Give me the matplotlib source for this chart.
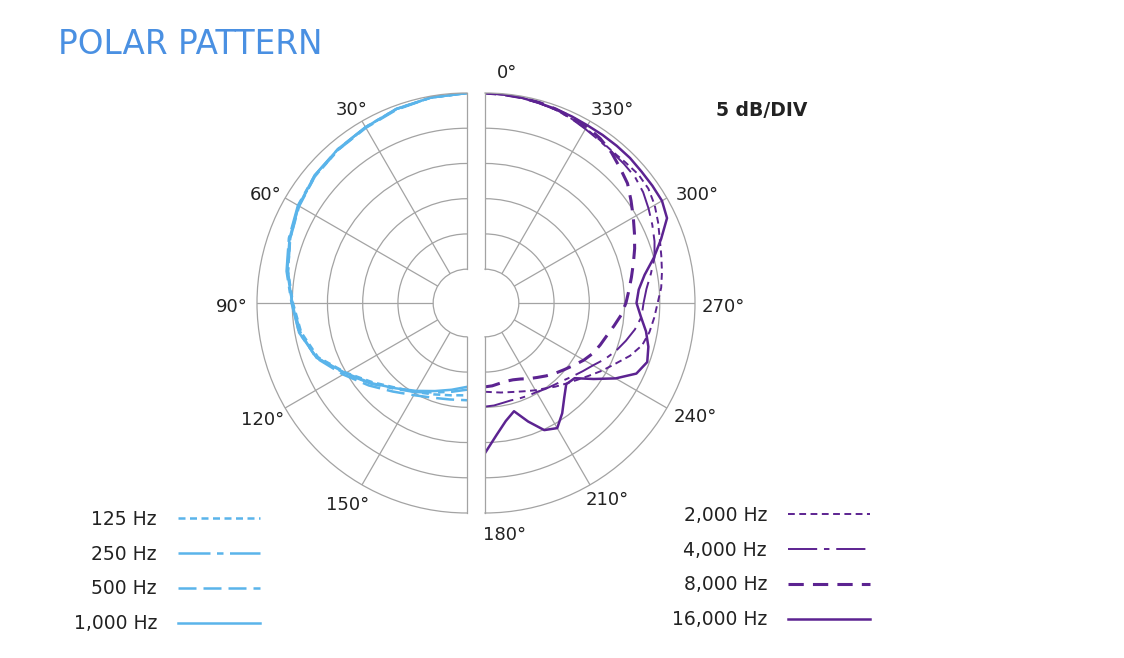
import numpy as np
import matplotlib.pyplot as plt

plt.rcParams['font.family'] = ['DejaVu Sans']

# chart angles (deg) and levels (dB), left half 0..180, right half 180..360
blue_angles = np.arange(0, 181, 10)
blue_125 = [0, -0.2, -0.5, -1.0, -1.4, -1.7, -2.2, -3.1, -4.0, -5.1, -5.9, -7.3,
            -10.0, -12.3, -14.1, -15.2, -16.0, -16.5, -16.7]
blue_250 = [0, -0.2, -0.5, -1.0, -1.3, -1.6, -2.1, -2.9, -3.8, -4.9, -5.6, -7.1,
            -9.8, -12.0, -13.9, -15.2, -16.3, -17.0, -17.5]
blue_500 = [0, -0.2, -0.6, -1.1, -1.4, -1.7, -2.3, -3.1, -4.0, -5.0, -5.8, -7.0,
            -9.5, -11.6, -13.4, -14.7, -15.5, -15.9, -16.0]
blue_1000 = [0, -0.2, -0.5, -1.0, -1.3, -1.6, -2.2, -3.0, -3.9, -5.0, -5.6, -7.1,
             -9.9, -12.1, -14.0, -15.4, -16.5, -17.3, -17.9]

purple_angles = np.arange(180, 361, 5)
purple_2000 = [-17.2, -17.1, -16.9, -16.7, -16.4, -16.0, -15.5, -15.0, -14.3, -13.6,
               -12.8, -11.8, -10.6, -9.4, -7.9, -6.7, -6.1, -5.7, -5.3, -4.7,
               -4.3, -3.9, -3.4, -2.7, -2.0, -1.5, -1.4, -1.6, -1.7, -1.5,
               -1.2, -0.9, -0.6, -0.4, -0.2, -0.1, 0]
purple_4000 = [-15.1, -15.2, -15.4, -15.5, -15.4, -15.3, -15.2, -14.9, -14.6, -14.2,
               -13.6, -12.9, -12.1, -11.0, -10.0, -9.1, -8.2, -7.5, -7.3, -6.8,
               -5.9, -4.9, -4.2, -3.6, -3.0, -2.4, -2.0, -1.9, -1.8, -1.6,
               -1.3, -0.9, -0.6, -0.4, -0.2, -0.1, 0]
purple_8000 = [-17.9, -18.0, -18.2, -18.3, -18.2, -17.9, -17.4, -16.9, -16.3, -15.7,
               -15.1, -14.4, -13.6, -12.9, -12.4, -11.9, -11.2, -10.4, -9.8, -9.3,
               -8.7, -8.0, -7.2, -6.4, -5.5, -4.5, -3.4, -2.7, -1.9, -1.3,
               -0.9, -0.7, -0.5, -0.3, -0.2, -0.1, 0]
purple_16000 = [-8.5, -11.0, -12.8, -13.9, -11.9, -9.9, -9.3, -10.7, -12.3, -13.5,
                -13.2, -11.0, -8.4, -6.1, -5.3, -5.8, -6.6, -7.6, -8.3, -7.9,
                -6.8, -5.0, -3.2, -1.3, -0.8, -0.8, -0.8, -0.7, -0.7, -0.7,
                -0.7, -0.6, -0.5, -0.4, -0.2, -0.1, 0]

left_ticks = [30, 60, 90, 120, 150]
right_ticks = [210, 240, 270, 300, 330]
# label nudges in px (x right, y up) from the spoke end on the outer ring
label_offsets = {0: (22, 20), 30: (-10, 11), 60: (-20, 3), 90: (-25, -4),
                 120: (-23, -12), 150: (-14, -20), 180: (20, -22),
                 210: (17, -15), 240: (28, -9), 270: (28, -4),
                 300: (30, 3), 330: (22, 11)}

BLUE = '#5ab4ea'
PURPLE = '#5c2391'
GRID = '#a3a3a3'
TEXT = '#222222'

W, H = 1124, 658
R = 210          # outer radius in px
CY = 303
LEFT_CX, RIGHT_CX = 467, 485
R_ORIGIN = -29.8

fig = plt.figure(figsize=(W / 100, H / 100), dpi=100)


def square_box(cx):
    # sector polar axes pad the half disc out to a square
    return [(cx - R) / W, 1 - (CY + R) / H, 2 * R / W, 2 * R / H]


def setup(ax, tmin, tmax, spokes):
    ax.set_theta_zero_location('N')
    ax.set_theta_direction(1)
    ax.set_thetamin(tmin)
    ax.set_thetamax(tmax)
    ax.set_rlim(-25, 0)
    ax.set_rorigin(R_ORIGIN)
    ax.set_rgrids([-20, -15, -10, -5], labels=[''] * 4)
    ax.set_thetagrids(spokes, labels=[''] * len(spokes))
    ax.grid(color=GRID, lw=0.9)
    for s in ax.spines.values():
        s.set_color(GRID)
        s.set_linewidth(0.9)
    ax.tick_params(length=0)
    ax.set_facecolor('none')


ax_l = fig.add_axes(square_box(LEFT_CX - R / 2), projection='polar')
ax_r = fig.add_axes(square_box(RIGHT_CX + R / 2), projection='polar')
setup(ax_l, 0, 180, left_ticks)
setup(ax_r, 180, 360, right_ticks)

th = np.deg2rad(blue_angles)
l125, = ax_l.plot(th, blue_125, color=BLUE, lw=1.8, dashes=(2.8, 1.8))
l250, = ax_l.plot(th, blue_250, color=BLUE, lw=1.8, dashes=(12.8, 2.6, 2.6, 2.6))
l500, = ax_l.plot(th, blue_500, color=BLUE, lw=1.8, dashes=(7.2, 2.8))
l1000, = ax_l.plot(th, blue_1000, color=BLUE, lw=1.8)

tp = np.deg2rad(purple_angles)
l2k, = ax_r.plot(tp, purple_2000, color=PURPLE, lw=1.4, dashes=(3.5, 2.3))
l4k, = ax_r.plot(tp, purple_4000, color=PURPLE, lw=1.4, dashes=(15, 3.5, 2.8, 3.5))
l8k, = ax_r.plot(tp, purple_8000, color=PURPLE, lw=2.2, dashes=(5, 3))
l16k, = ax_r.plot(tp, purple_16000, color=PURPLE, lw=1.8)

# angle labels around the outer ring
for a, (dx, dy) in label_offsets.items():
    ax = ax_l if 0 < a < 180 else ax_r
    ax.annotate(f'{a}°', xy=(np.deg2rad(a), 0), xytext=(dx, dy),
                textcoords='offset pixels', ha='center', va='center',
                fontsize=13, color=TEXT, annotation_clip=False)

fig.text(58 / W, 1 - 54 / H, 'POLAR PATTERN', ha='left', va='baseline',
         fontsize=23.5, color='#4a90e2')
fig.text(762 / W, 1 - 110 / H, '5 dB/DIV', ha='center', va='center',
         fontsize=13.5, color=TEXT, fontweight='bold')

leg_kw = dict(loc='upper right', bbox_transform=fig.transFigure, frameon=False,
              markerfirst=False, alignment='right', handlelength=4.4,
              handletextpad=1.1, labelspacing=0.84, borderpad=0,
              borderaxespad=0, fontsize=13.5, labelcolor=TEXT)
leg1 = fig.legend([l125, l250, l500, l1000],
                  ['125 Hz', '250 Hz', '500 Hz', '1,000 Hz'],
                  bbox_to_anchor=(260 / W, 1 - 510 / H), **leg_kw)
leg2 = fig.legend([l2k, l4k, l8k, l16k],
                  ['2,000 Hz', '4,000 Hz', '8,000 Hz', '16,000 Hz'],
                  bbox_to_anchor=(870 / W, 1 - 506 / H), **leg_kw)

fig.savefig('out.png', dpi=100, facecolor='white')
